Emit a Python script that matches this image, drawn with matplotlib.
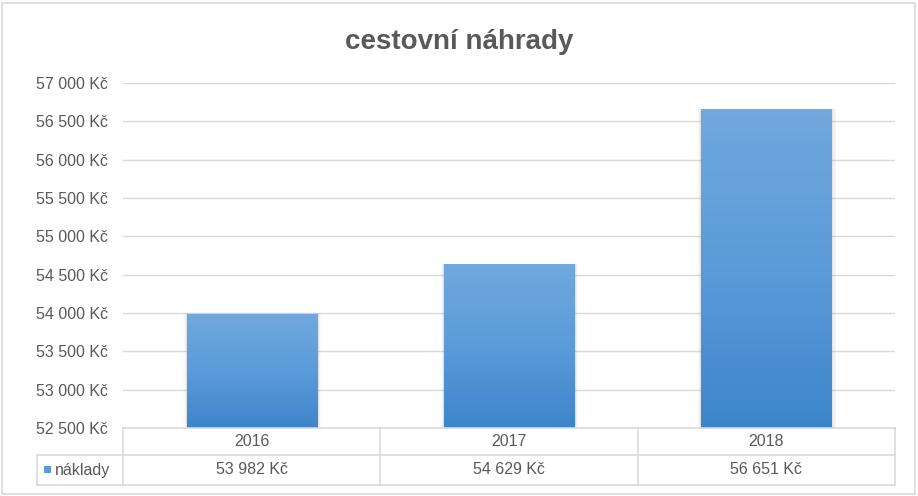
import matplotlib.pyplot as plt
import numpy as np
from matplotlib.colors import LinearSegmentedColormap
from matplotlib.patches import Rectangle

years = ['2016', '2017', '2018']
costs = [53982, 54629, 56651]
series_name = 'náklady'
title = 'cestovní náhrady'

y_min, y_max, y_step = 52500, 57000, 500


def kc(v):
    return f'{v:,.0f}'.replace(',', ' ') + ' Kč'


plt.rcParams['font.family'] = ['Liberation Sans', 'DejaVu Sans']
text_color = '#595959'
line_color = '#d9d9d9'
fs = 11.5

fig = plt.figure(figsize=(9.18, 4.96), dpi=100)
W, H = 918, 496

# outer chart border
fig.patches.append(Rectangle((2 / W, 2 / H), 913 / W, 491 / H, transform=fig.transFigure,
                             facecolor='none', edgecolor=line_color, linewidth=1.2, zorder=-1))

left, right, top, bottom = 123, 895, 83, 428
ax = fig.add_axes([left / W, 1 - bottom / H, (right - left) / W, (bottom - top) / H])
ax.set_facecolor('none')

x = np.arange(len(years))
ticks = np.arange(y_min, y_max + 1, y_step)
ax.set_yticks(ticks)
ax.set_yticklabels([kc(v) for v in ticks])
ax.tick_params(axis='y', length=0, pad=11, labelsize=fs, labelcolor=text_color)
ax.set_xticks([])
ax.grid(axis='y', color=line_color, linewidth=1)
ax.set_axisbelow(True)
for s in ax.spines.values():
    s.set_visible(False)

cmap = LinearSegmentedColormap.from_list('bar', ['#3d85cb', '#5b9bd9', '#71a8de'])
grad = np.linspace(0, 1, 256).reshape(-1, 1)
width = 0.506
bars = ax.bar(x, [c - y_min for c in costs], width, bottom=y_min, color='none', zorder=3)
for b in bars:
    x0, y0 = b.get_x(), b.get_y()
    w, h = b.get_width(), b.get_height()
    # soft shadow
    for i, a in enumerate([0.10, 0.07, 0.04]):
        ax.add_patch(Rectangle((x0 - 0.004 * (i + 1), y0), w + 0.008 * (i + 1.5),
                               h + 8 * (i + 1), facecolor='#7f7f7f', edgecolor='none',
                               alpha=a, zorder=2))
    ax.imshow(grad, cmap=cmap, aspect='auto', extent=(x0, x0 + w, y0, y0 + h),
              origin='lower', zorder=3)

ax.set_xlim(-0.5, len(years) - 0.5)
ax.set_ylim(y_min, y_max)

fig.text(459 / W, 1 - 42 / H, title, ha='center', va='center', fontsize=20,
         fontweight='bold', color=text_color)

# data table
row1, row2, row3 = 428, 455, 485
leg_left = 37
cols = [left + (right - left) * i / len(years) for i in range(len(years) + 1)]


def fl(xs, ys):
    fig.add_artist(plt.Line2D([v / W for v in xs], [1 - v / H for v in ys],
                              color=line_color, linewidth=1.2))


fl([left, right], [row1, row1])
fl([leg_left, right], [row2, row2])
fl([leg_left, right], [row3, row3])
for c in cols:
    fl([c, c], [row1, row3])
fl([leg_left, leg_left], [row2, row3])

for i, (yr, c) in enumerate(zip(years, costs)):
    cx = (cols[i] + cols[i + 1]) / 2
    fig.text(cx / W, 1 - (row1 + row2) / 2 / H, yr, ha='center', va='center',
             fontsize=fs, color=text_color)
    fig.text(cx / W, 1 - (row2 + row3) / 2 / H, kc(c), ha='center', va='center',
             fontsize=fs, color=text_color)

fig.patches.append(Rectangle((44 / W, 1 - 473 / H), 7 / W, 7 / H, transform=fig.transFigure,
                             facecolor='#5b9bd5', edgecolor='none'))
fig.text(55 / W, 1 - (row2 + row3) / 2 / H, series_name, ha='left', va='center',
         fontsize=fs, color=text_color)

fig.savefig('out.png', dpi=100)
